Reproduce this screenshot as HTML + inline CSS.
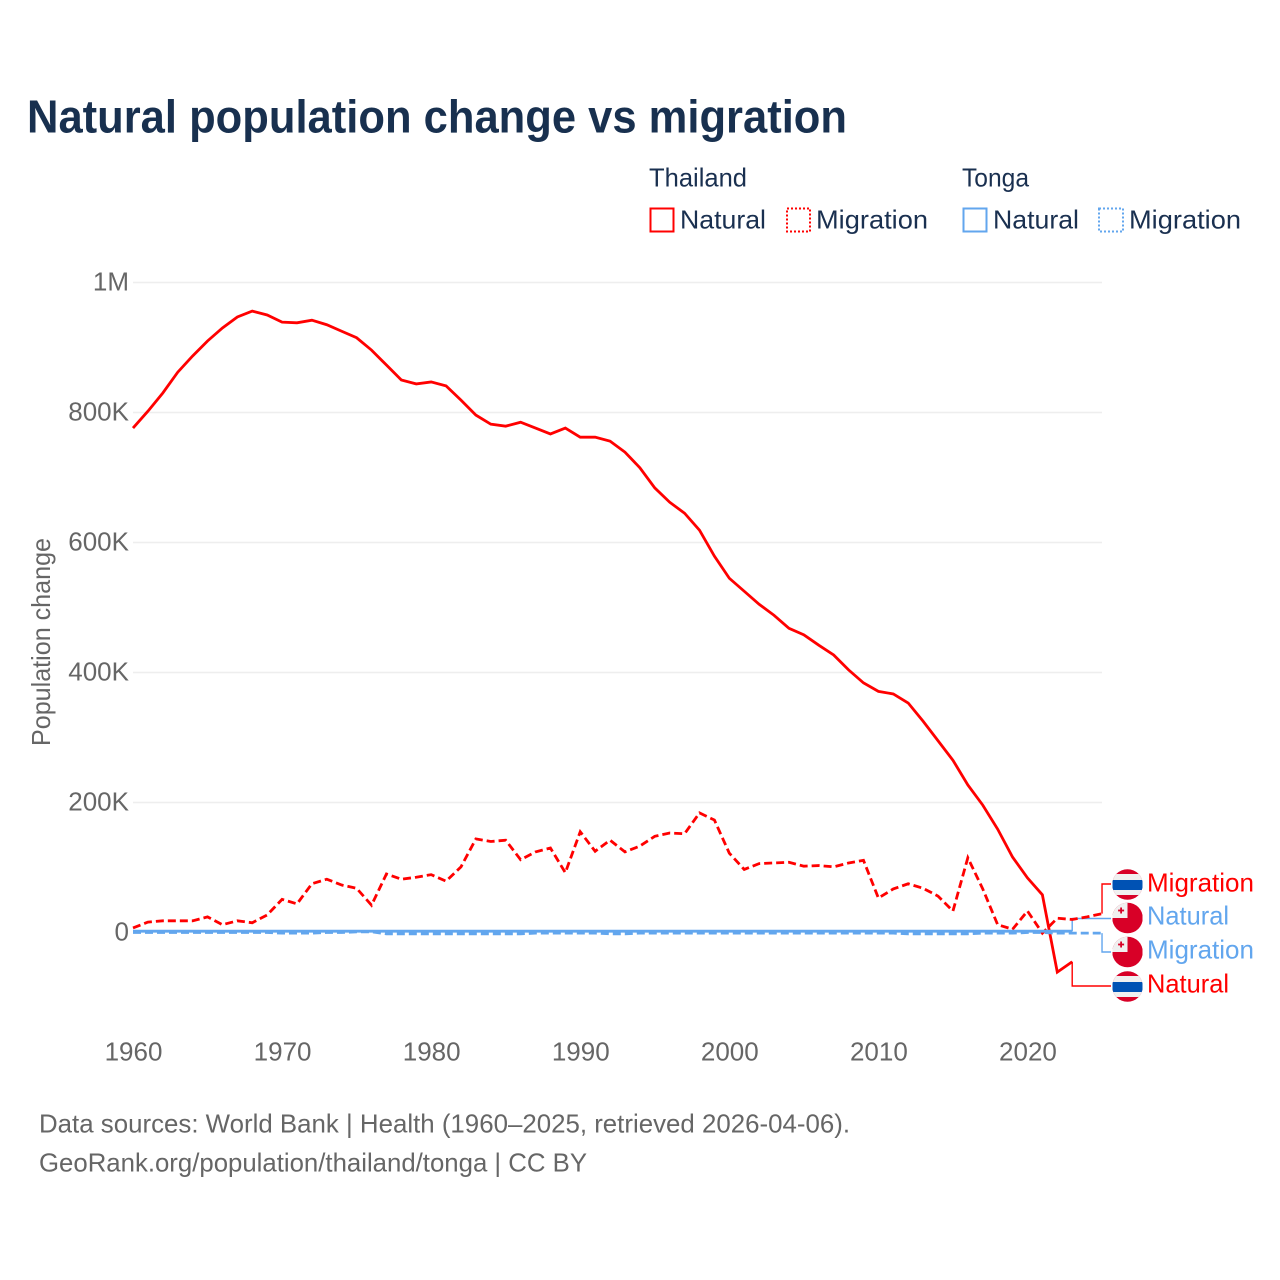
<!DOCTYPE html>
<html lang="en">
<head>
<meta charset="utf-8">
<title>Natural population change vs migration</title>
<style>
html,body{margin:0;padding:0;background:#fff;}
svg{display:block;font-family:"Liberation Sans",sans-serif;}
</style>
</head>
<body>
<svg id="chart" xmlns="http://www.w3.org/2000/svg" width="1280" height="1280" viewBox="0 0 1280 1280">
  <defs>
    <clipPath id="flag-clip"><circle cx="15" cy="15.5" r="15.3"/></clipPath>
  </defs>
  <rect width="1280" height="1280" fill="#fff"/>
  <text x="27" y="132.5" font-size="46" font-weight="700" fill="#18304f" textLength="820" lengthAdjust="spacingAndGlyphs">Natural population change vs migration</text>

  <g font-size="26" fill="#1a3050">
    <text x="649" y="186.5" textLength="98" lengthAdjust="spacingAndGlyphs">Thailand</text>
    <text x="962" y="186.5" textLength="67" lengthAdjust="spacingAndGlyphs">Tonga</text>
    <g>
      <rect x="650.5" y="208.5" width="23" height="23" fill="none" stroke="#ff0000" stroke-width="2"/>
      <text x="680" y="228.5" textLength="86" lengthAdjust="spacingAndGlyphs">Natural</text>
    </g>
    <g>
      <rect x="787" y="208.5" width="23" height="23" fill="none" stroke="#ff0000" stroke-width="2" stroke-dasharray="2 2"/>
      <text x="816" y="228.5" textLength="112" lengthAdjust="spacingAndGlyphs">Migration</text>
    </g>
    <g>
      <rect x="963.5" y="208.5" width="23" height="23" fill="none" stroke="#62a6ee" stroke-width="2"/>
      <text x="993" y="228.5" textLength="86" lengthAdjust="spacingAndGlyphs">Natural</text>
    </g>
    <g>
      <rect x="1099" y="208.5" width="24" height="23" fill="none" stroke="#62a6ee" stroke-width="2" stroke-dasharray="2 2"/>
      <text x="1129" y="228.5" textLength="112" lengthAdjust="spacingAndGlyphs">Migration</text>
    </g>
  </g>

  <g id="grid"></g>
  <g id="y-axis"></g>
  <g id="x-axis"></g>
  <text transform="translate(50,642) rotate(-90)" text-anchor="middle" font-size="26" fill="#666" textLength="208" lengthAdjust="spacingAndGlyphs">Population change</text>
  <g id="series"></g>
  <g id="end-labels"></g>

  <g font-size="26" fill="#666">
    <text x="39" y="1132.5" textLength="811" lengthAdjust="spacingAndGlyphs">Data sources: World Bank | Health (1960–2025, retrieved 2026-04-06).</text>
    <text x="39" y="1171.5" textLength="548" lengthAdjust="spacingAndGlyphs">GeoRank.org/population/thailand/tonga | CC BY</text>
  </g>
</svg>
<script>
// Chart data (values in thousands of people)
const startYear = 1960;
const xTickLabels = [1960, 1970, 1980, 1990, 2000, 2010, 2020];
const yTickValues = [0, 200, 400, 600, 800, 1000];
const yTickLabels = ["0", "200K", "400K", "600K", "800K", "1M"];
const thailandNatural = [776,802,830,862,887,910,930,947,956,950,939,938,942,935,925,915,896,873,850,844,847,841,819,796,782,779,785,776,767,776,762,762,756,739,715,684,662,645,619,579,545,525,505,488,468,458,442,427,404,384,371,367,353,325,295,265,227,196,159,116,84,58,-61,-45];
const thailandMigration = [7,16,18,18,18,24,12,18,15,27,51,44,75,82,73,68,42,90,82,85,89,79,101,144,140,142,112,124,130,92,155,125,142,124,133,148,153,152,184,173,122,97,106,107,108,102,103,101,107,111,53,67,75,68,56,33,115,67,12,5,33,-1,22,20,24,29];
const tongaNatural = [2,2,2,2,2,2,2,2,2,2,2,2,2,2,2,2,2,2,2,2,2,2,2,2,2,2,2,2,2,2,2,2,2,2,2,2,2,2,2,2,2,2,2,2,2,2,2,2,2,2,2,2,2,2,2,2,2,2,2,2,2,2,2,2];
const tongaMigration = [0,0,0,0,0,0,0,0,0,0,-1,-1,-1,0,0,1,1,-2,-2,-2,-2,-2,-2,-2,-2,-2,-2,-1,-1,-1,-1,-1,-2,-2,-1,-1,-1,-1,-1,-1,-1,-1,-1,-1,-1,-1,-1,-1,-1,-1,-1,-1,-2,-2,-2,-2,-2,-1,-1,-1,0,0,-1,-1,-1,-1];

const NS = "http://www.w3.org/2000/svg";
const xOf = function (year) { return 133 + (year - 1960) * 14.908; };
const yOf = function (v) { return 932.5 - v * 0.65; };
const RED = "#ff0000";
const BLUE = "#62a6ee";

function make(tag, attrs, parent) {
  const el = document.createElementNS(NS, tag);
  Object.keys(attrs).forEach(function (k) { el.setAttribute(k, attrs[k]); });
  parent.appendChild(el);
  return el;
}

const grid = document.getElementById("grid");
const yAxis = document.getElementById("y-axis");
const xAxis = document.getElementById("x-axis");
yTickValues.forEach(function (v, i) {
  if (v !== 0) {
    const line = make("line", { x1: 133, x2: 1102, y1: yOf(v), y2: yOf(v), stroke: "#eeeeee", "stroke-width": 1.6 }, grid);
    
    
  }
  const t = make("text", { x: 129, y: yOf(v) + 8, "text-anchor": "end", "font-size": 26, fill: "#666" }, yAxis);
  
  
  t.textContent = yTickLabels[i];
});
xTickLabels.forEach(function (yr) {
  const t = make("text", { x: xOf(yr) + 0.5, y: 1060.5, "text-anchor": "middle", "font-size": 26, fill: "#666" }, xAxis);
  
  
  t.textContent = yr;
});

const seriesGroup = document.getElementById("series");
function pointsOf(values) {
  return values.map(function (v, i) { return xOf(startYear + i) + "," + yOf(v); }).join(" ");
}
function drawLine(values, color, dash, width) {
  const attrs = { points: pointsOf(values), fill: "none", stroke: color, "stroke-width": width, "stroke-linejoin": "miter" };
  if (dash) attrs["stroke-dasharray"] = dash;
  return make("polyline", attrs, seriesGroup);
}
function drawConnector(values, labelY, color) {
  const last = values.length - 1;
  const x0 = xOf(startYear + last);
  const y0 = yOf(values[last]);
  return make("polyline", {
    points: x0 + "," + y0 + " " + x0 + "," + labelY + " 1111," + labelY,
    fill: "none", stroke: color, "stroke-width": 1.4
  }, seriesGroup);
}

const c1 = drawConnector(thailandMigration, 884, RED);


const c2 = drawConnector(tongaNatural, 918.5, BLUE);


const c3 = drawConnector(tongaMigration, 952, BLUE);


const c4 = drawConnector(thailandNatural, 986, RED);



const l1 = drawLine(thailandNatural, RED, null, 2.8);


const l2 = drawLine(thailandMigration, RED, "8 4", 2.8);


const l3 = drawLine(tongaNatural, BLUE, null, 2.8);


const l4 = drawLine(tongaMigration, BLUE, "8 4", 2.8);



const endLabels = document.getElementById("end-labels");
function drawThaiFlag(y) {
  const g = make("g", { transform: "translate(1112.5," + y + ")", "clip-path": "url(#flag-clip)" }, endLabels);
  make("rect", { x: 0, y: 0, width: 30, height: 31, fill: "#d80027" }, g);
  make("rect", { x: 0, y: 5, width: 30, height: 21, fill: "#f0f0f0" }, g);
  make("rect", { x: 0, y: 11, width: 30, height: 10, fill: "#0052b4" }, g);
  return g;
}
function drawTongaFlag(y) {
  const g = make("g", { transform: "translate(1112.5," + y + ")", "clip-path": "url(#flag-clip)" }, endLabels);
  make("rect", { x: 0, y: 0, width: 30, height: 31, fill: "#d80027" }, g);
  make("rect", { x: 0, y: 0, width: 15, height: 15.5, fill: "#f0f0f0" }, g);
  make("rect", { x: 7.7, y: 5, width: 1.8, height: 6, fill: "#d80027" }, g);
  make("rect", { x: 5.6, y: 7.1, width: 6, height: 1.8, fill: "#d80027" }, g);
  return g;
}
function drawEndText(label, baseline, color, width) {
  const t = make("text", { x: 1147, y: baseline, "font-size": 26, fill: color, textLength: width, lengthAdjust: "spacingAndGlyphs" }, endLabels);
  t.textContent = label;
  return t;
}

const f1 = drawThaiFlag(869);


const e1 = drawEndText("Migration", 891.5, RED, 107);



const f2 = drawTongaFlag(902.5);


const e2 = drawEndText("Natural", 924.5, BLUE, 82);



const f3 = drawTongaFlag(936.5);


const e3 = drawEndText("Migration", 958.5, BLUE, 107);



const f4 = drawThaiFlag(971);


const e4 = drawEndText("Natural", 992.5, RED, 82);


</script>
</body>
</html>
